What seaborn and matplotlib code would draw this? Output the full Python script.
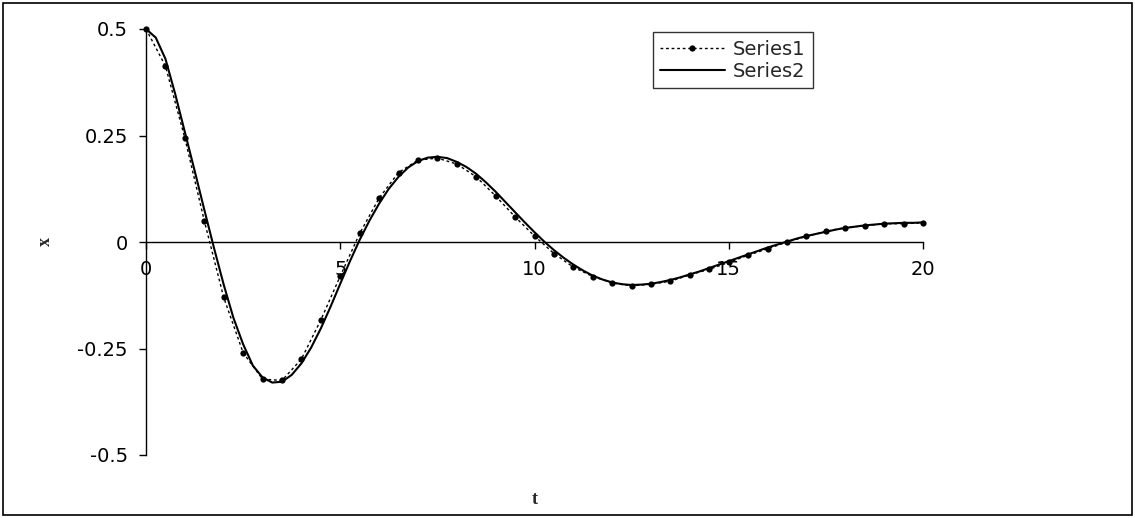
import numpy as np
import pandas as pd
import matplotlib
matplotlib.use("Agg")
import matplotlib.pyplot as plt
from matplotlib.patches import Rectangle
import seaborn as sns

sns.set_style("white")
plt.rcParams['font.family'] = ['DejaVu Sans']

# Series1: points every 0.5
t1 = np.arange(0, 20.01, 0.5)
x1 = [0.5, 0.413, 0.244, 0.05, -0.13, -0.26, -0.322, -0.325, -0.275, -0.183,
      -0.08, 0.02, 0.103, 0.163, 0.192, 0.197, 0.183, 0.153, 0.108, 0.059,
      0.014, -0.027, -0.059, -0.081, -0.096, -0.103, -0.099, -0.092, -0.077, -0.064,
      -0.048, -0.031, -0.016, 0.0, 0.013, 0.025, 0.034, 0.038, 0.043, 0.043,
      0.045]

# Series2: smooth curve, read every 0.25
t2 = np.arange(0, 20.01, 0.25)
x2 = [0.5, 0.48, 0.43, 0.348, 0.258, 0.168, 0.076, -0.014, -0.10, -0.178,
      -0.24, -0.29, -0.318, -0.33, -0.328, -0.312, -0.285, -0.248, -0.203, -0.152,
      -0.098, -0.045, 0.005, 0.05, 0.09, 0.125, 0.153, 0.175, 0.19, 0.198,
      0.2, 0.197, 0.188, 0.176, 0.16, 0.14, 0.118, 0.094, 0.07, 0.046,
      0.023, 0.001, -0.019, -0.037, -0.053, -0.067, -0.079, -0.088, -0.095, -0.099,
      -0.101, -0.1, -0.098, -0.094, -0.089, -0.083, -0.076, -0.069, -0.061, -0.053,
      -0.045, -0.037, -0.029, -0.021, -0.013, -0.006, 0.001, 0.008, 0.014, 0.019,
      0.024, 0.029, 0.033, 0.036, 0.039, 0.041, 0.043, 0.044, 0.045, 0.045,
      0.046]

xticks = [0, 5, 10, 15, 20]
yticks = [-0.5, -0.25, 0, 0.25, 0.5]
ytick_labels = ['-0.5', '-0.25', '0', '0.25', '0.5']

fig = plt.figure(figsize=(11.35, 5.18), dpi=100)
ax = fig.add_axes([146/1135, 63/518, 777/1135, 426/518])

sns.lineplot(x=t1, y=x1, ax=ax, color='black', linewidth=1, linestyle=(0, (2, 2)),
             marker='o', markersize=4.5, markeredgewidth=0, label='Series1', clip_on=False)
sns.lineplot(x=t2, y=x2, ax=ax, color='black', linewidth=1.5, label='Series2', clip_on=False)

ax.set_xlim(0, 20)
ax.set_ylim(-0.5, 0.5)
ax.set_xticks(xticks)
ax.set_xticklabels([str(v) for v in xticks])
ax.set_yticks(yticks)
ax.set_yticklabels(ytick_labels)
ax.set_xlabel('')
ax.set_ylabel('')

for s in ['top', 'right']:
    ax.spines[s].set_visible(False)
ax.spines['bottom'].set_position(('data', 0))
for s in ['bottom', 'left']:
    ax.spines[s].set_color('black')
    ax.spines[s].set_linewidth(1)

ax.tick_params(axis='both', direction='out', length=5, width=1, color='black',
               labelsize=14, labelcolor='black')
ax.tick_params(axis='y', pad=8)
ax.tick_params(axis='x', pad=8)
ax.xaxis.set_ticks_position('bottom')
ax.yaxis.set_ticks_position('left')

leg = ax.legend(loc='upper left', bbox_to_anchor=(0.652, 0.993), fontsize=14,
                frameon=True, fancybox=False, handlelength=3.3, borderpad=0.4,
                labelspacing=0.15, handletextpad=0.4, borderaxespad=0)
leg.get_frame().set_edgecolor('black')
leg.get_frame().set_linewidth(1)

fig.text(535/1135, 1 - 500/518, 't', ha='center', va='center', fontsize=13,
         fontweight='bold', family=['Liberation Serif', 'DejaVu Serif'])
fig.text(45/1135, 1 - 242/518, 'x', ha='center', va='center', fontsize=13,
         fontweight='bold', rotation=90, family=['Liberation Serif', 'DejaVu Serif'])

fig.patches.append(Rectangle((3/1135, 3/518), 1129/1135, 512/518,
                             transform=fig.transFigure, fill=False,
                             edgecolor='black', linewidth=1.2))

fig.savefig('out.png', dpi=100)
